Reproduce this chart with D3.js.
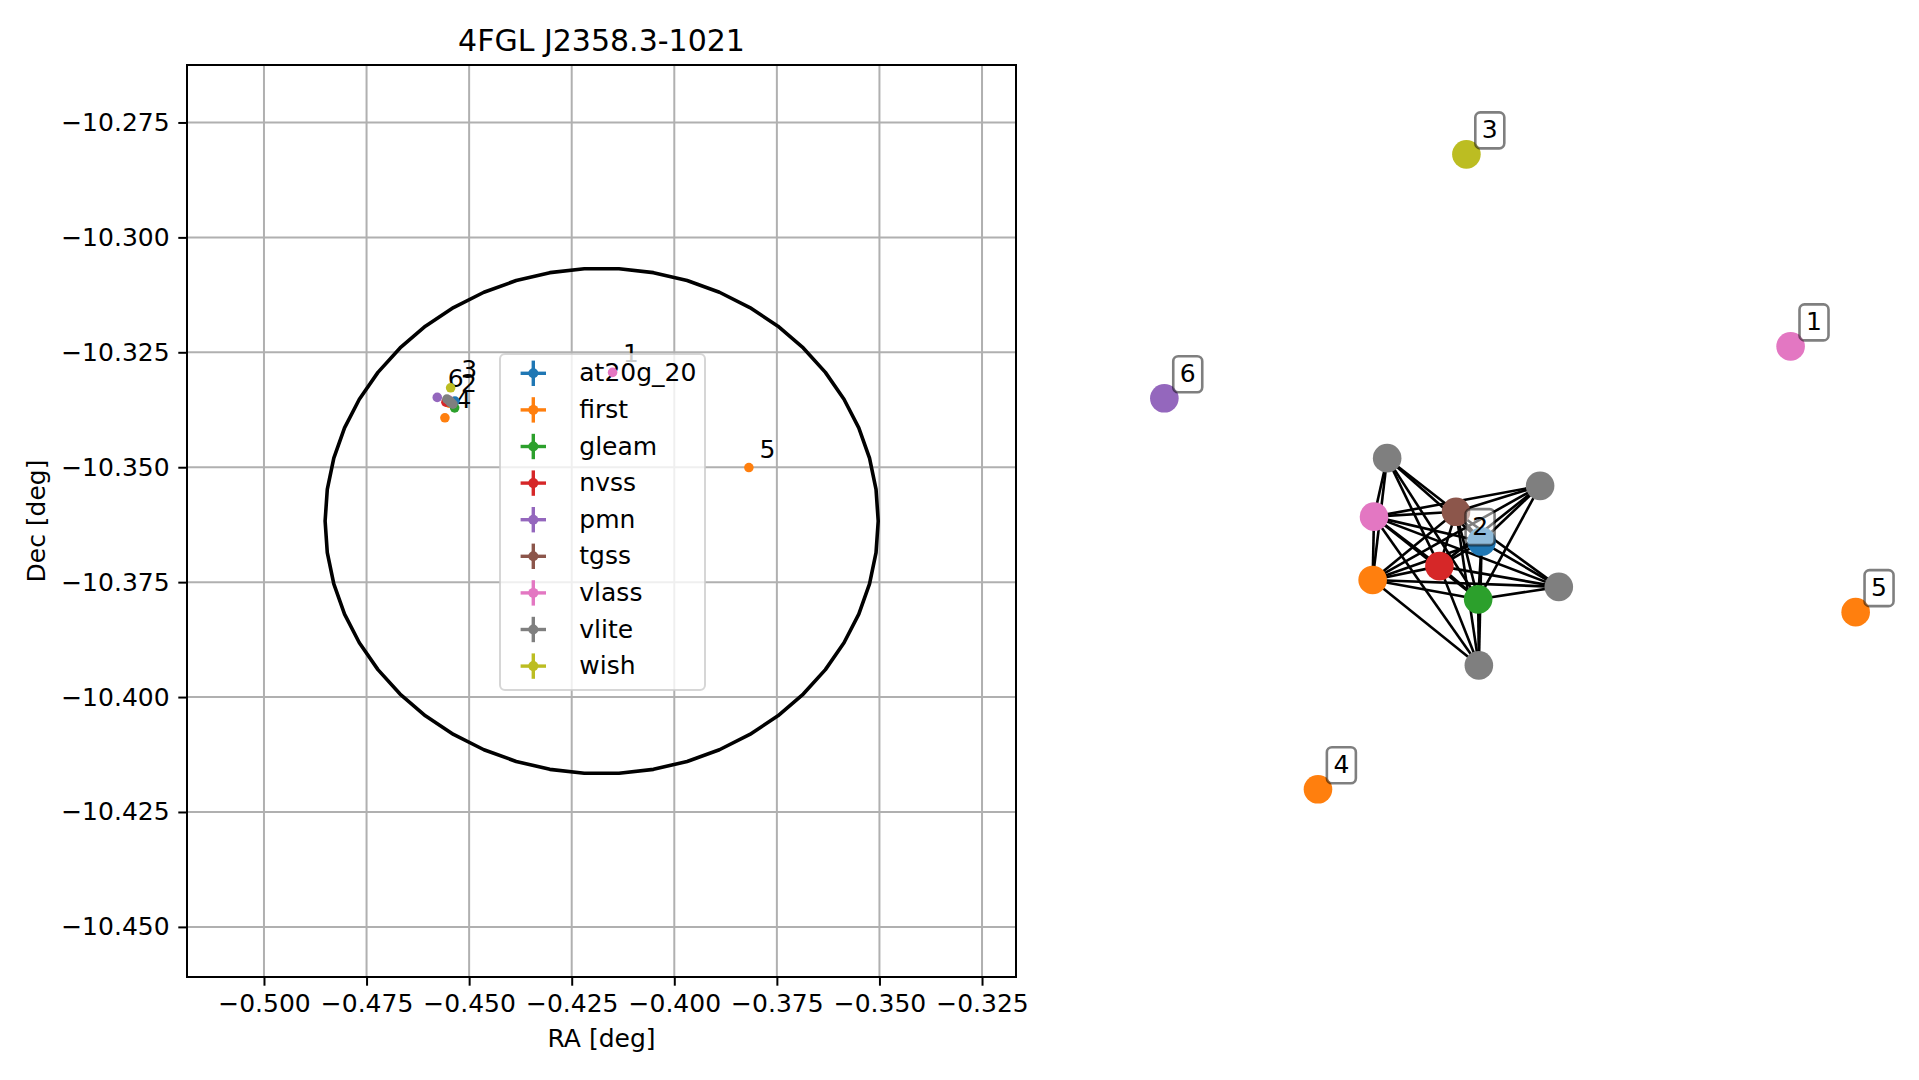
<!DOCTYPE html>
<html><head><meta charset="utf-8">
<script src="https://cdn.jsdelivr.net/npm/d3@7"></script>
<style>
html,body{margin:0;padding:0;background:#fff;}
svg{display:block;font-family:"DejaVu Sans",sans-serif;}
</style></head>
<body><svg id="c" width="1919" height="1080"></svg>
<script>
// ---------------- data ----------------
const chartTitle = "4FGL J2358.3-1021";
const xLabel = "RA [deg]";
const yLabel = "Dec [deg]";
const surveys = ["at20g_20","first","gleam","nvss","pmn","tgss","vlass","vlite","wish"];
const surveyColors = ["#1f77b4","#ff7f0e","#2ca02c","#d62728","#9467bd","#8c564b","#e377c2","#7f7f7f","#bcbd22"];
// one entry per source (also one node per source in the graph)
const srcSurvey = [6, 7, 7, 6, 5, 0, 3, 1, 2, 7, 7, 8, 1, 1, 4];
const srcComp   = [1, 2, 2, 2, 2, 2, 2, 2, 2, 2, 2, 3, 4, 5, 6];
const srcRA  = [-0.41504,-0.45541,-0.45395,-0.45492,-0.45468,-0.45346,-0.45565,-0.45492,-0.45353,-0.45468,-0.45443,-0.45451,-0.45590,-0.38182,-0.45777];
const srcDec = [-10.32937,-10.33518,-10.33627,-10.33540,-10.33584,-10.33562,-10.33584,-10.33605,-10.33708,-10.33562,-10.33594,-10.33272,-10.33925,-10.35007,-10.33481];
// graph layout positions (unitless)
const nodeX = [0.811,-0.355,0.087,-0.393,-0.156,-0.082,-0.204,-0.397,-0.092,0.141,-0.090,-0.126,-0.555,0.999,-0.999];
const nodeY = [0.363,0.040,-0.040,-0.129,-0.115,-0.201,-0.272,-0.312,-0.368,-0.332,-0.559,0.918,-0.917,-0.405,0.213];
const edges = [[1,3],[1,4],[1,5],[1,6],[1,7],[1,8],
  [2,3],[2,4],[2,5],[2,6],[2,7],[2,8],
  [3,4],[3,5],[3,6],[3,7],[3,8],[3,9],[3,10],
  [4,5],[4,6],[4,7],[4,8],[4,9],[4,10],
  [5,6],[5,7],[5,8],[5,9],[5,10],
  [6,7],[6,8],[6,9],[6,10],
  [7,8],[7,9],[7,10],
  [8,9],[8,10]];
const compIds = [1,2,3,4,5,6];
// Fermi error ellipse
const ellRA = [-0.4177], ellDec = [-10.3617], ellA = [0.0674], ellB = [0.0550];
const xTicks = [-0.500,-0.475,-0.450,-0.425,-0.400,-0.375,-0.350,-0.325];
const yTicks = [-10.275,-10.300,-10.325,-10.350,-10.375,-10.400,-10.425,-10.450];

// ---------------- layout ----------------
const svg = d3.select("#c");
const L = {left:187, right:1016, top:65, bottom:977};
const x = d3.scaleLinear().domain([-0.51876,-0.31672]).range([L.left,L.right]);
const y = d3.scaleLinear().domain([-10.2625,-10.4609]).range([L.top,L.bottom]);
const FS = 25;

const g = svg.append("g");
// grid
g.append("g").selectAll("line").data(xTicks).join("line")
  .attr("x1",d=>x(d)).attr("x2",d=>x(d)).attr("y1",L.top).attr("y2",L.bottom)
  .attr("stroke","#b0b0b0").attr("stroke-width",2);
g.append("g").selectAll("line").data(yTicks).join("line")
  .attr("y1",d=>y(d)).attr("y2",d=>y(d)).attr("x1",L.left).attr("x2",L.right)
  .attr("stroke","#b0b0b0").attr("stroke-width",2);

// axes
const fmt = d3.format(".3f");
const xa = g.append("g").attr("transform",`translate(0,${L.bottom})`)
  .call(d3.axisBottom(x).tickValues(xTicks).tickFormat(fmt).tickSize(8.7).tickPadding(8.7));
const ya = g.append("g").attr("transform",`translate(${L.left},0)`)
  .call(d3.axisLeft(y).tickValues(yTicks).tickFormat(fmt).tickSize(8.7).tickPadding(8.7));
[xa,ya].forEach(a=>{
  a.select(".domain").remove();
  a.selectAll(".tick line").attr("stroke","#000").attr("stroke-width",2);
  a.selectAll(".tick text").attr("fill","#000").style("font-size",FS+"px").style("font-family","DejaVu Sans");
});

// ellipse
const ellPts = d3.range(51).map(i=>{
  const t = i/50*2*Math.PI;
  return [ellRA[0]+ellA[0]*Math.cos(t), ellDec[0]+ellB[0]*Math.sin(t)];
});
g.append("path").attr("d", d3.line().x(d=>x(d[0])).y(d=>y(d[1]))(ellPts))
  .attr("fill","none").attr("stroke","#000").attr("stroke-width",3.6).attr("stroke-linejoin","round");

// component labels (left)
const compMean = compIds.map(c=>{
  const idx = srcComp.map((v,i)=>v===c?i:-1).filter(i=>i>=0);
  return {c, ra:d3.mean(idx,i=>srcRA[i]), dec:d3.mean(idx,i=>srcDec[i])};
});
g.append("g").selectAll("text").data(compMean).join("text")
  .attr("x",d=>x(d.ra)+10.5).attr("y",d=>y(d.dec)-10)
  .style("font-size",FS+"px").attr("fill","#000").text(d=>d.c);

// legend
const lg = g.append("g");
lg.append("rect").attr("x",500).attr("y",354).attr("width",205).attr("height",336)
  .attr("rx",5).attr("fill","#fff").attr("fill-opacity",0.8)
  .attr("stroke","#cccccc").attr("stroke-opacity",0.8).attr("stroke-width",2);
const le = lg.selectAll("g.e").data(surveys).join("g").attr("class","e")
  .attr("transform",(d,i)=>`translate(533.3,${373.3+i*36.6})`);
le.append("line").attr("x1",-12.7).attr("x2",12.7).attr("stroke",(d,i)=>surveyColors[i]).attr("stroke-width",3.4);
le.append("line").attr("y1",-12.7).attr("y2",12.7).attr("stroke",(d,i)=>surveyColors[i]).attr("stroke-width",3.4);
le.append("circle").attr("r",5).attr("fill",(d,i)=>surveyColors[i]);
le.append("text").attr("x",46).attr("y",8).style("font-size",FS+"px").attr("fill","#000").text(d=>d);

// points (drawn in survey order)
const order = d3.range(srcRA.length).sort((a,b)=>srcSurvey[a]-srcSurvey[b] || a-b);
g.append("g").selectAll("circle").data(order).join("circle")
  .attr("cx",i=>x(srcRA[i])).attr("cy",i=>y(srcDec[i])).attr("r",4.8)
  .attr("fill",i=>surveyColors[srcSurvey[i]]);

// frame
g.append("rect").attr("x",L.left).attr("y",L.top).attr("width",L.right-L.left).attr("height",L.bottom-L.top)
  .attr("fill","none").attr("stroke","#000").attr("stroke-width",2);

// titles
svg.append("text").attr("x",(L.left+L.right)/2).attr("y",51).attr("text-anchor","middle")
  .style("font-size","30px").text(chartTitle);
svg.append("text").attr("x",(L.left+L.right)/2).attr("y",1047).attr("text-anchor","middle")
  .style("font-size",FS+"px").text(xLabel);
svg.append("text").attr("transform",`translate(44.5,${(L.top+L.bottom)/2}) rotate(-90)`).attr("text-anchor","middle")
  .style("font-size",FS+"px").text(yLabel);

// ---------------- graph ----------------
const gx = d3.scaleLinear().domain([-1,1]).range([1164,1856]);
const gy = d3.scaleLinear().domain([-1,1]).range([818,126]);
const gg = svg.append("g");
gg.append("g").selectAll("line").data(edges).join("line")
  .attr("x1",d=>gx(nodeX[d[0]])).attr("y1",d=>gy(nodeY[d[0]]))
  .attr("x2",d=>gx(nodeX[d[1]])).attr("y2",d=>gy(nodeY[d[1]]))
  .attr("stroke","#000").attr("stroke-width",2.6);
gg.append("g").selectAll("circle").data(d3.range(nodeX.length)).join("circle")
  .attr("cx",i=>gx(nodeX[i])).attr("cy",i=>gy(nodeY[i])).attr("r",14.3)
  .attr("fill",i=>surveyColors[srcSurvey[i]]);
const compNode = compIds.map(c=>{
  const idx = srcComp.map((v,i)=>v===c?i:-1).filter(i=>i>=0);
  return {c, px:d3.mean(idx,i=>gx(nodeX[i]))+23.4, py:d3.mean(idx,i=>gy(nodeY[i]))-25};
});
const gl = gg.append("g").selectAll("g").data(compNode).join("g")
  .attr("transform",d=>`translate(${d.px},${d.py})`);
gl.append("rect").attr("x",-14.5).attr("y",-17).attr("width",29).attr("height",36).attr("rx",5)
  .attr("fill","#fff").attr("fill-opacity",0.5).attr("stroke","#000").attr("stroke-opacity",0.5).attr("stroke-width",2.6);
gl.append("text").attr("text-anchor","middle").attr("y",9).style("font-size",FS+"px").attr("fill","#000").text(d=>d.c);
</script></body></html>
